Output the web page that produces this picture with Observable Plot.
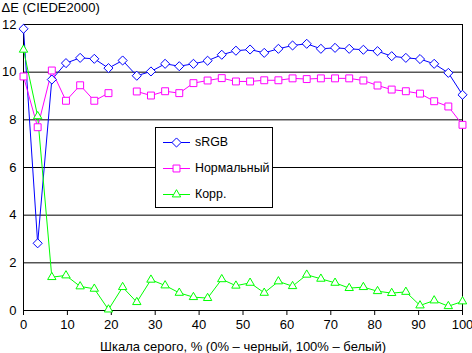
<!DOCTYPE html>
<html>
<head>
<meta charset="utf-8">
<script src="https://cdn.jsdelivr.net/npm/d3@7"></script>
<script src="https://cdn.jsdelivr.net/npm/@observablehq/plot@0.6"></script>
<style>
  html, body { margin: 0; padding: 0; background: #fff; }
  #wrap { position: relative; width: 472px; height: 353px; font-family: "Liberation Sans", Arial, sans-serif; }
  #legend { position: absolute; left: 155px; top: 127px; width: 116px; height: 79px; border: 1px solid #000; background: #fff; }
  .row { position: absolute; left: 7px; height: 16px; display: flex; align-items: center; font-size: 12.4px; color: #000; }
  .row svg { margin-right: 4px; }
</style>
</head>
<body>
<div id="wrap"></div>
<script>
const levels = d3.range(32).map(i => i * 100 / 31);
const seriesNames = ["sRGB", "Нормальный", "Корр."];
const seriesColors = ["#0000ff", "#ff00ff", "#00ff00"];
const seriesSymbols = ["diamond2", "square2", "triangle2"];
const seriesR = [4.1, 4.4, 4.0];

const srgb = [11.82, 2.82, 9.69, 10.38, 10.60, 10.56, 10.17, 10.49, 9.85, 10.03,
  10.35, 10.25, 10.35, 10.48, 10.73, 10.90, 10.95, 10.81, 10.98, 11.12,
  11.19, 10.98, 11.02, 10.98, 10.94, 10.88, 10.67, 10.60, 10.55, 10.35, 9.97, 9.05];
const normal = [9.82, 7.69, 10.07, 8.80, 9.45, 8.80, 9.12, null, 9.19, 9.02,
  9.20, 9.12, 9.54, 9.65, 9.75, 9.61, 9.61, 9.66, 9.66, 9.74,
  9.71, 9.74, 9.74, 9.74, 9.65, 9.44, 9.27, 9.20, 9.10, 8.78, 8.56, 7.79];
const corr = [10.94, 8.15, 1.40, 1.47, 1.01, 0.91, 0.04, 0.98, 0.35, 1.29,
  1.05, 0.74, 0.56, 0.52, 1.31, 1.04, 1.16, 0.74, 1.22, 1.02,
  1.50, 1.33, 1.16, 0.94, 0.98, 0.81, 0.73, 0.78, 0.21, 0.42, 0.18, 0.38];

const yTicks = [0, 2, 4, 6, 8, 10, 12];
const xTicks = [0, 10, 20, 30, 40, 50, 60, 70, 80, 90, 100];
const yTitle = "ΔE (CIEDE2000)";
const xTitle = "Шкала серого, % (0% – черный, 100% – белый)";

const allValues = [srgb, normal, corr];
const data = allValues.flatMap((vals, s) => vals.map((v, i) => ({ x: levels[i], y: v, s })));

const marks = [
  Plot.ruleY(yTicks, { stroke: "#000", strokeWidth: 1 }),
  Plot.ruleX([0], { y1: 0, y2: 12, stroke: "#000" }),
  Plot.ruleX([100], { y1: 0, y2: 12, stroke: "#000" }),
  Plot.axisY(yTicks, { tickSize: 0, tickPadding: 7, fontSize: 13, label: null }),
  Plot.axisX(xTicks, { tickSize: 5, tickPadding: 4, fontSize: 13, label: null }),
  Plot.text([yTitle], { frameAnchor: "top-left", dx: -22, dy: -17, textAnchor: "start", lineAnchor: "middle", fontSize: 13 }),
  Plot.text([xTitle], { frameAnchor: "bottom", dy: 40, lineAnchor: "bottom", fontSize: 13 })
];
for (let s = 0; s < 3; s++) {
  const d = data.filter(p => p.s === s);
  marks.push(Plot.line(d, { x: "x", y: "y", stroke: seriesColors[s], strokeWidth: 1, defined: p => p.y != null }));
}
for (let s = 0; s < 3; s++) {
  const d = data.filter(p => p.s === s && p.y != null);
  marks.push(Plot.dot(d, { x: "x", y: "y", symbol: seriesSymbols[s], r: seriesR[s], stroke: seriesColors[s], fill: "#fff", strokeWidth: 1 }));
}

const chart = Plot.plot({
  width: 472,
  height: 353,
  marginLeft: 23,
  marginRight: 10,
  marginTop: 24,
  marginBottom: 43,
  style: { fontFamily: "'Liberation Sans', Arial, sans-serif", fontSize: "13px", color: "#000", background: "#fff", overflow: "visible" },
  x: { domain: [0, 100] },
  y: { domain: [0, 12] },
  marks
});
const wrap = document.getElementById("wrap");
wrap.appendChild(chart);

// legend
const legend = document.createElement("div");
legend.id = "legend";
const rowTops = [6, 32, 58];
seriesNames.forEach((name, s) => {
  const row = document.createElement("div");
  row.className = "row";
  row.style.top = rowTops[s] + "px";
  const sw = d3.create("svg").attr("width", 28).attr("height", 16);
  sw.append("line").attr("x1", 0).attr("x2", 27).attr("y1", 8.5).attr("y2", 8.5).attr("stroke", seriesColors[s]);
  const sym = { diamond2: d3.symbolDiamond2, square2: d3.symbolSquare2, triangle2: d3.symbolTriangle2 }[seriesSymbols[s]];
  sw.append("path").attr("transform", "translate(13.5,8.5)")
    .attr("d", d3.symbol(sym, seriesR[s] * seriesR[s] * Math.PI)())
    .attr("fill", "#fff").attr("stroke", seriesColors[s]);
  row.appendChild(sw.node());
  const t = document.createElement("span");
  t.textContent = name;
  row.appendChild(t);
  legend.appendChild(row);
});
wrap.appendChild(legend);
</script>
</body>
</html>
